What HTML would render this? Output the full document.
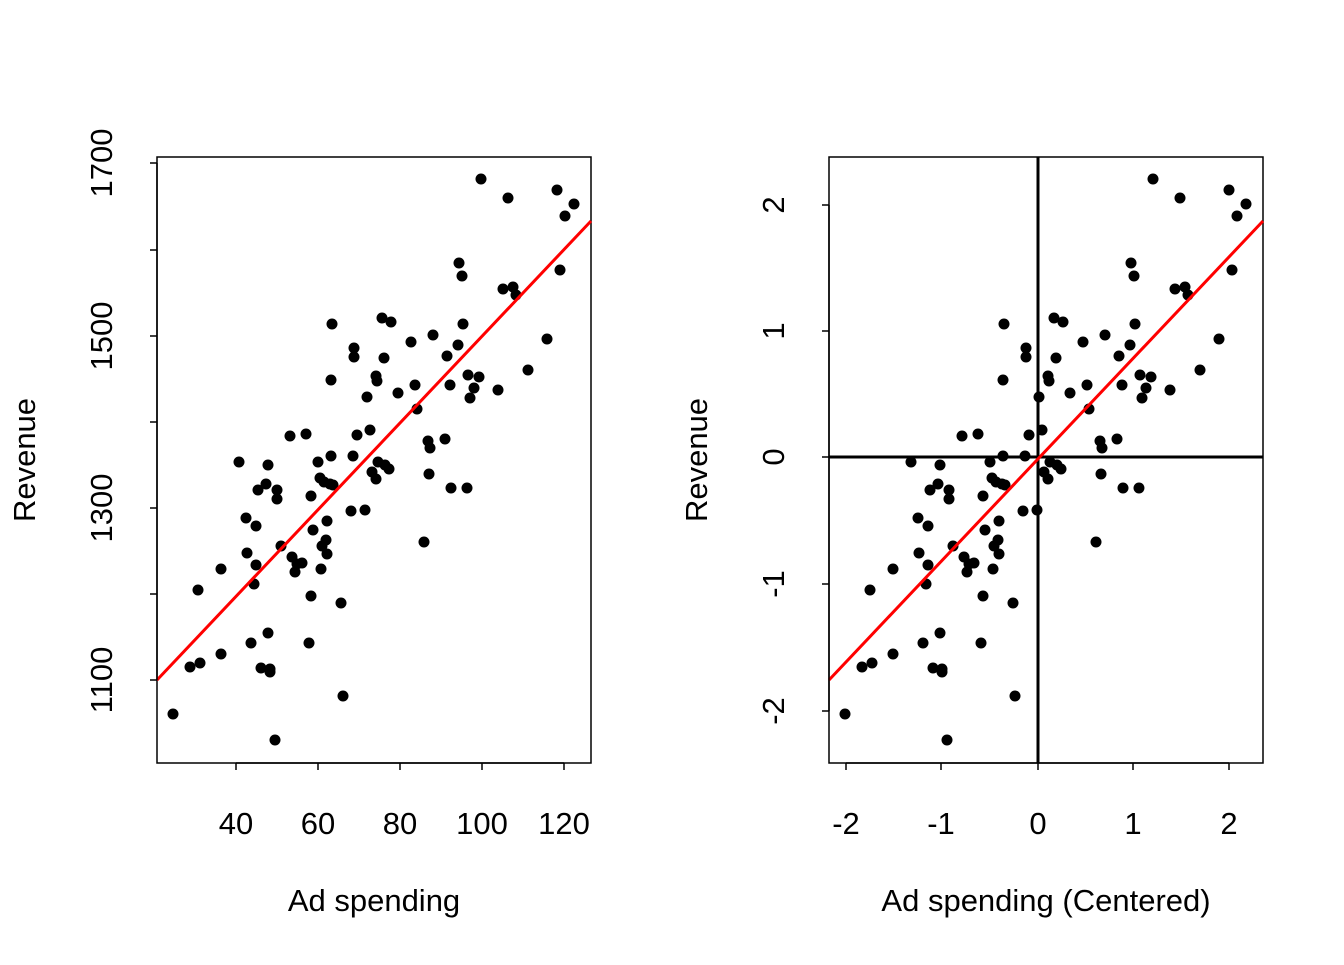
<!DOCTYPE html>
<html><head><meta charset="utf-8"><style>
html,body{margin:0;padding:0;background:#fff}
svg text{font-family:"Liberation Sans",Arial,sans-serif;font-size:31px;fill:#000}
</style></head><body>
<svg width="1344" height="960" viewBox="0 0 1344 960" xmlns="http://www.w3.org/2000/svg">
<defs>
<g id="pts" fill="#000">
<circle cx="173" cy="714" r="5.5"/><circle cx="190" cy="667" r="5.5"/><circle cx="200" cy="663" r="5.5"/><circle cx="198" cy="590" r="5.5"/><circle cx="221" cy="654" r="5.5"/><circle cx="221" cy="569" r="5.5"/><circle cx="239" cy="462" r="5.5"/><circle cx="246" cy="518" r="5.5"/><circle cx="247" cy="553" r="5.5"/><circle cx="251" cy="643" r="5.5"/><circle cx="254" cy="584" r="5.5"/><circle cx="256" cy="526" r="5.5"/><circle cx="256" cy="565" r="5.5"/><circle cx="258" cy="490" r="5.5"/><circle cx="261" cy="668" r="5.5"/><circle cx="266" cy="484" r="5.5"/><circle cx="268" cy="465" r="5.5"/><circle cx="268" cy="633" r="5.5"/><circle cx="270" cy="669" r="5.5"/><circle cx="270" cy="672" r="5.5"/><circle cx="275" cy="740" r="5.5"/><circle cx="277" cy="490" r="5.5"/><circle cx="277" cy="499" r="5.5"/><circle cx="281" cy="546" r="5.5"/><circle cx="290" cy="436" r="5.5"/><circle cx="292" cy="557" r="5.5"/><circle cx="295" cy="572" r="5.5"/><circle cx="297" cy="564" r="5.5"/><circle cx="302" cy="563" r="5.5"/><circle cx="306" cy="434" r="5.5"/><circle cx="309" cy="643" r="5.5"/><circle cx="311" cy="596" r="5.5"/><circle cx="311" cy="496" r="5.5"/><circle cx="313" cy="530" r="5.5"/><circle cx="318" cy="462" r="5.5"/><circle cx="320" cy="478" r="5.5"/><circle cx="321" cy="569" r="5.5"/><circle cx="322" cy="546" r="5.5"/><circle cx="324" cy="482" r="5.5"/><circle cx="326" cy="540" r="5.5"/><circle cx="327" cy="521" r="5.5"/><circle cx="327" cy="554" r="5.5"/><circle cx="330" cy="484" r="5.5"/><circle cx="331" cy="456" r="5.5"/><circle cx="333" cy="485" r="5.5"/><circle cx="331" cy="380" r="5.5"/><circle cx="332" cy="324" r="5.5"/><circle cx="341" cy="603" r="5.5"/><circle cx="343" cy="696" r="5.5"/><circle cx="351" cy="511" r="5.5"/><circle cx="353" cy="456" r="5.5"/><circle cx="354" cy="348" r="5.5"/><circle cx="354" cy="357" r="5.5"/><circle cx="357" cy="435" r="5.5"/><circle cx="365" cy="510" r="5.5"/><circle cx="367" cy="397" r="5.5"/><circle cx="370" cy="430" r="5.5"/><circle cx="372" cy="472" r="5.5"/><circle cx="376" cy="376" r="5.5"/><circle cx="376" cy="479" r="5.5"/><circle cx="377" cy="381" r="5.5"/><circle cx="378" cy="462" r="5.5"/><circle cx="382" cy="318" r="5.5"/><circle cx="384" cy="358" r="5.5"/><circle cx="385" cy="465" r="5.5"/><circle cx="389" cy="469" r="5.5"/><circle cx="391" cy="322" r="5.5"/><circle cx="398" cy="393" r="5.5"/><circle cx="411" cy="342" r="5.5"/><circle cx="415" cy="385" r="5.5"/><circle cx="417" cy="409" r="5.5"/><circle cx="424" cy="542" r="5.5"/><circle cx="428" cy="441" r="5.5"/><circle cx="429" cy="474" r="5.5"/><circle cx="430" cy="448" r="5.5"/><circle cx="433" cy="335" r="5.5"/><circle cx="445" cy="439" r="5.5"/><circle cx="447" cy="356" r="5.5"/><circle cx="450" cy="385" r="5.5"/><circle cx="451" cy="488" r="5.5"/><circle cx="458" cy="345" r="5.5"/><circle cx="459" cy="263" r="5.5"/><circle cx="462" cy="276" r="5.5"/><circle cx="463" cy="324" r="5.5"/><circle cx="467" cy="488" r="5.5"/><circle cx="468" cy="375" r="5.5"/><circle cx="470" cy="398" r="5.5"/><circle cx="474" cy="388" r="5.5"/><circle cx="479" cy="377" r="5.5"/><circle cx="481" cy="179" r="5.5"/><circle cx="498" cy="390" r="5.5"/><circle cx="503" cy="289" r="5.5"/><circle cx="508" cy="198" r="5.5"/><circle cx="513" cy="287" r="5.5"/><circle cx="516" cy="295" r="5.5"/><circle cx="528" cy="370" r="5.5"/><circle cx="547" cy="339" r="5.5"/><circle cx="557" cy="190" r="5.5"/><circle cx="560" cy="270" r="5.5"/><circle cx="565" cy="216" r="5.5"/><circle cx="574" cy="204" r="5.5"/>
</g>
</defs>

<!-- Left panel -->
<rect x="157" y="157" width="434" height="606" fill="none" stroke="#000" stroke-width="1.5"/>
<use href="#pts"/>
<line x1="157" y1="680" x2="591" y2="221" stroke="#f00" stroke-width="3"/>
<g stroke="#000" stroke-width="1.5">
<line x1="236" y1="763" x2="564" y2="763"/>
<line x1="236" y1="763" x2="236" y2="770"/><line x1="318" y1="763" x2="318" y2="770"/><line x1="400" y1="763" x2="400" y2="770"/><line x1="482" y1="763" x2="482" y2="770"/><line x1="564" y1="763" x2="564" y2="770"/>
<line x1="157" y1="163" x2="157" y2="680"/>
<line x1="150" y1="163" x2="157" y2="163"/><line x1="150" y1="250" x2="157" y2="250"/><line x1="150" y1="336" x2="157" y2="336"/><line x1="150" y1="422" x2="157" y2="422"/><line x1="150" y1="508" x2="157" y2="508"/><line x1="150" y1="594" x2="157" y2="594"/><line x1="150" y1="680" x2="157" y2="680"/>
</g>
<g text-anchor="middle">
<text x="236" y="834">40</text><text x="318" y="834">60</text><text x="400" y="834">80</text><text x="482" y="834">100</text><text x="564" y="834">120</text>
<text x="374" y="911">Ad spending</text>
<text transform="translate(112,680) rotate(-90)">1100</text>
<text transform="translate(112,508) rotate(-90)">1300</text>
<text transform="translate(112,336) rotate(-90)">1500</text>
<text transform="translate(112,163) rotate(-90)">1700</text>
<text transform="translate(35,460) rotate(-90)">Revenue</text>
</g>

<!-- Right panel -->
<rect x="829" y="157" width="434" height="606" fill="none" stroke="#000" stroke-width="1.5"/>
<line x1="1038" y1="157" x2="1038" y2="763" stroke="#000" stroke-width="3"/>
<line x1="829" y1="457" x2="1263" y2="457" stroke="#000" stroke-width="3"/>
<use href="#pts" transform="translate(672,0)"/>
<line x1="829" y1="680" x2="1263" y2="221" stroke="#f00" stroke-width="3"/>
<g stroke="#000" stroke-width="1.5">
<line x1="846" y1="763" x2="1229" y2="763"/>
<line x1="846" y1="763" x2="846" y2="770"/><line x1="941" y1="763" x2="941" y2="770"/><line x1="1038" y1="763" x2="1038" y2="770"/><line x1="1133" y1="763" x2="1133" y2="770"/><line x1="1229" y1="763" x2="1229" y2="770"/>
<line x1="829" y1="205" x2="829" y2="711"/>
<line x1="822" y1="205" x2="829" y2="205"/><line x1="822" y1="331" x2="829" y2="331"/><line x1="822" y1="457" x2="829" y2="457"/><line x1="822" y1="584" x2="829" y2="584"/><line x1="822" y1="711" x2="829" y2="711"/>
</g>
<g text-anchor="middle">
<text x="846" y="834">-2</text><text x="941" y="834">-1</text><text x="1038" y="834">0</text><text x="1133" y="834">1</text><text x="1229" y="834">2</text>
<text x="1046" y="911">Ad spending (Centered)</text>
<text transform="translate(784,711) rotate(-90)">-2</text>
<text transform="translate(784,584) rotate(-90)">-1</text>
<text transform="translate(784,457) rotate(-90)">0</text>
<text transform="translate(784,331) rotate(-90)">1</text>
<text transform="translate(784,205) rotate(-90)">2</text>
<text transform="translate(707,460) rotate(-90)">Revenue</text>
</g>
</svg>
</body></html>
